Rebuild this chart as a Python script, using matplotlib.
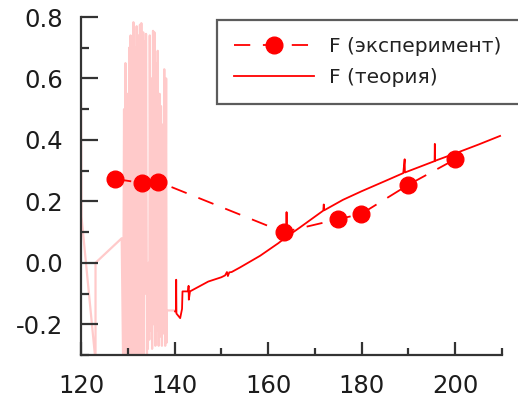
import matplotlib.pyplot as plt
from matplotlib.ticker import MultipleLocator, FormatStrFormatter

plt.rcParams["axes.unicode_minus"] = False

# experimental points
exp_x = [127.3, 133.0, 136.5, 163.3, 175.0, 179.9, 190.0, 200.0]
exp_y = [0.273, 0.260, 0.264, 0.100, 0.142, 0.159, 0.254, 0.337]

# theory curve (with the small spikes of the computed trace)
theory_x = [140.1, 140.3, 140.35, 140.4, 141.2, 141.6, 141.7, 142.9, 143.0, 143.05,
            143.3, 147.2, 150.0, 150.8, 151.2, 151.4, 151.7, 152.2, 154.0, 158.3,
            162.2, 163.9, 163.95, 164.0, 166.8, 171.8, 171.9, 172.0, 176.0, 180.0,
            185.0, 188.9, 189.2, 189.25, 192.0, 195.6, 195.65, 195.7, 200.0, 205.0,
            209.6]
theory_y = [-0.158, -0.158, -0.055, -0.165, -0.180, -0.150, -0.093, -0.093, -0.075, -0.120,
            -0.093, -0.061, -0.047, -0.041, -0.030, -0.043, -0.031, -0.030, -0.015, 0.023,
            0.064, 0.084, 0.165, 0.085, 0.115, 0.170, 0.190, 0.171, 0.205, 0.233,
            0.266, 0.292, 0.337, 0.294, 0.310, 0.331, 0.387, 0.332, 0.356, 0.385,
            0.413]

# noisy low-temperature part of the computed trace
noise_x = [120.0, 120.1, 123.1, 123.1, 128.7,
           129.0, 129.2, 129.4, 129.5, 129.7, 129.9, 130.1, 130.3, 130.5, 130.6,
           130.8, 131.0, 131.1, 131.2, 131.4, 131.6, 131.7, 131.9, 132.1, 132.2,
           132.4, 132.6, 132.7, 132.9, 133.1, 133.3, 133.4, 133.6, 133.8, 133.9,
           134.1, 134.2, 134.3, 134.4, 134.6, 134.7, 134.9, 135.1, 135.2, 135.4,
           135.6, 135.7, 135.9, 136.1, 136.2, 136.4, 136.6, 136.8, 136.9, 137.1,
           137.3, 137.5, 137.6, 137.8, 138.0, 138.2, 138.3,
           138.3, 140.0]
noise_y = [0.52, 0.15, -0.32, 0.00, 0.08,
           -0.32, 0.50, -0.32, 0.65, -0.32, 0.55, -0.32, 0.70, -0.32, 0.74,
           -0.32, 0.72, -0.32, 0.783, -0.32, 0.70, -0.32, 0.77, -0.32, 0.74,
           -0.32, 0.775, -0.32, 0.78, -0.32, 0.75, -0.32, 0.72, -0.10, 0.745,
           -0.30, -0.02, -0.28, 0.00, -0.25, 0.74, -0.22, 0.60, -0.28, 0.755,
           -0.20, 0.75, -0.27, 0.65, -0.22, 0.69, -0.27, 0.55, -0.24, 0.51,
           -0.27, 0.45, -0.23, 0.63, -0.27, 0.60, -0.26,
           -0.155, -0.155]

fig = plt.figure(figsize=(5.18, 4.01), dpi=100)
ax = fig.add_axes([0.1564, 0.1147, 0.8126, 0.8429])

ax.plot(noise_x, noise_y, color="#ffcaca", lw=1.6, zorder=1)
ax.plot(exp_x, exp_y, color="red", lw=1.3, dashes=(9, 7), marker="o", ms=12,
        label="F (эксперимент)", zorder=3)
ax.plot(theory_x, theory_y, color="red", lw=1.3, label="F (теория)", zorder=2)

ax.set_xlim(120, 210)
ax.set_ylim(-0.3, 0.8)

for s in ["top", "right"]:
    ax.spines[s].set_visible(False)
for s in ["left", "bottom"]:
    ax.spines[s].set_linewidth(1.6)
    ax.spines[s].set_color("#333333")

ax.xaxis.set_major_locator(MultipleLocator(20))
ax.xaxis.set_minor_locator(MultipleLocator(10))
ax.yaxis.set_major_locator(MultipleLocator(0.2))
ax.yaxis.set_minor_locator(MultipleLocator(0.1))
ax.yaxis.set_major_formatter(FormatStrFormatter("%.1f"))

ax.tick_params(axis="y", which="major", direction="in", length=12, width=1.6,
               color="#333333", labelsize=17.5, labelcolor="#1c1c1c", pad=13)
ax.tick_params(axis="y", which="minor", direction="in", length=6, width=1.6, color="#333333")
ax.tick_params(axis="x", which="major", direction="in", length=9.5, width=1.6,
               color="#333333", labelsize=17.5, labelcolor="#1c1c1c", pad=14)
ax.tick_params(axis="x", which="minor", direction="in", length=5, width=1.6, color="#333333")

# legend box runs past the right edge of the figure
leg = ax.legend(loc="upper left", bbox_to_anchor=(217 / 518, 1 - 20 / 401, 0.6, 0),
                bbox_transform=fig.transFigure, mode="expand", fontsize=14.5,
                frameon=True, fancybox=False, edgecolor="#333333", handlelength=4.0,
                handletextpad=0.74, borderpad=0.84, labelspacing=0.59, numpoints=1,
                borderaxespad=0)
leg.get_frame().set_linewidth(1.6)
for t in leg.get_texts():
    t.set_color("#222222")

fig.savefig("out.png", dpi=100)
